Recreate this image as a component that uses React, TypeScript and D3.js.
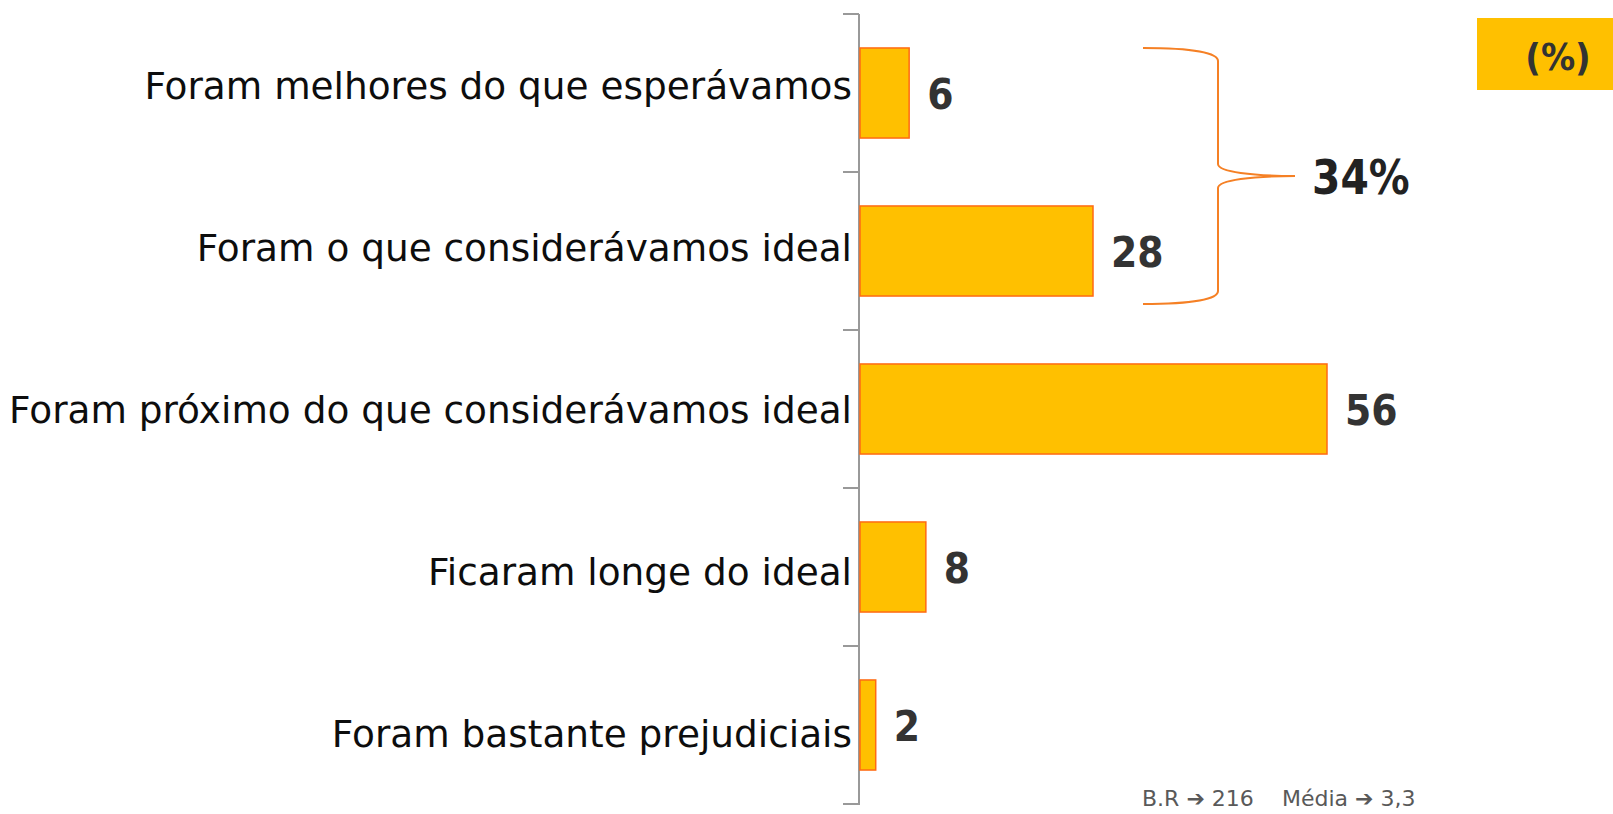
import React from "react";
import * as d3 from "d3";

const categories = [
  "Foram melhores do que esperávamos",
  "Foram o que considerávamos ideal",
  "Foram próximo do que considerávamos ideal",
  "Ficaram longe do ideal",
  "Foram bastante prejudiciais",
];
const values = [6, 28, 56, 8, 2];
const braceGroup = [0, 1];
const braceLabel = "34%";
const unitLabel = "(%)";
const footnotes = [
  ["B.R", "216"],
  ["Média", "3,3"],
];

const W = 1613;
const H = 814;
const FONT = "'DejaVu Sans', Verdana, sans-serif";
const SX = 0.985;

export default function App() {
  const axisX = 859;
  const pad = 0.43;
  const y = d3
    .scaleBand<string>()
    .domain(categories)
    .range([14, 804])
    .paddingInner(pad)
    .paddingOuter(pad / 2);
  const x = d3.scaleLinear().domain([0, 56]).range([axisX, axisX + 468]);
  const labelY = d3.scalePoint<string>().domain(categories).range([99, 747]);
  const step = y.step();
  const bw = y.bandwidth();
  const boundaries = d3.range(categories.length + 1).map((i) => 14 + i * step);

  const bTop = y(categories[braceGroup[0]])!;
  const bBot = y(categories[braceGroup[braceGroup.length - 1]])! + bw + 8;
  const bMid = (bTop + bBot) / 2;
  const bx0 = 1143;
  const bx1 = 1218;
  const tip = 1295;
  const bracePath = [
    `M${bx0},${bTop}`,
    `C${bx0 + 50},${bTop} ${bx1},${bTop + 5} ${bx1},${bTop + 13}`,
    `L${bx1},${bMid - 12}`,
    `C${bx1},${bMid - 4} ${bx1 + 35},${bMid} ${tip},${bMid}`,
    `C${bx1 + 35},${bMid} ${bx1},${bMid + 4} ${bx1},${bMid + 12}`,
    `L${bx1},${bBot - 13}`,
    `C${bx1},${bBot - 5} ${bx0 + 50},${bBot} ${bx0},${bBot}`,
  ].join(" ");

  const footX = [1142, 1282];

  return (
    <svg
      width={W}
      height={H}
      style={{ position: "absolute", left: 0, top: 0, background: "#fff" }}
      fontFamily={FONT}
    >
      {/* axis */}
      <line x1={axisX} x2={axisX} y1={14} y2={805} stroke="#999" strokeWidth={2} />
      {boundaries.map((b, i) => (
        <line key={i} x1={axisX - 16} x2={axisX} y1={b} y2={b} stroke="#999" strokeWidth={2} />
      ))}
      {/* bars */}
      {categories.map((c, i) => (
        <rect
          key={c}
          x={x(0) + 1}
          y={y(c)}
          width={x(values[i]) - x(0) - 1}
          height={bw}
          fill="#FFC000"
          stroke="#FF6A13"
          strokeWidth={1.5}
        />
      ))}
      {/* value labels */}
      {categories.map((c, i) => (
        <g key={c} transform={`translate(${x(values[i]) + 18},${y(c)! + bw / 2 + 16}) scale(0.9,1)`}>
          <text fontSize={42} fontWeight="bold" fill="#333">
            {values[i]}
          </text>
        </g>
      ))}
      {/* category labels */}
      {categories.map((c) => (
        <g key={c} transform={`translate(${axisX - 7},${labelY(c)}) scale(${SX},1)`}>
          <text fontSize={38} textAnchor="end" fill="#0d0d0d">
            {c}
          </text>
        </g>
      ))}
      {/* brace */}
      <path d={bracePath} fill="none" stroke="#F58025" strokeWidth={2} />
      <g transform={`translate(1312,${bMid + 18}) scale(0.85,1)`}>
        <text fontSize={48} fontWeight="bold" fill="#222">
          {braceLabel}
        </text>
      </g>
      {/* unit box */}
      <rect x={1477} y={18} width={W - 1477} height={72} fill="#FFC000" />
      <g transform={`translate(1558,70) scale(0.9,1)`}>
        <text fontSize={38} fontWeight="bold" fill="#333" textAnchor="middle">
          {unitLabel}
        </text>
      </g>
      {/* footnotes */}
      {footnotes.map((f, i) => (
        <text key={i} x={footX[i]} y={806} fontSize={22} fill="#595959">
          {f[0]}{" "}
          <tspan fontWeight="bold">➔</tspan> {f[1]}
        </text>
      ))}
    </svg>
  );
}
